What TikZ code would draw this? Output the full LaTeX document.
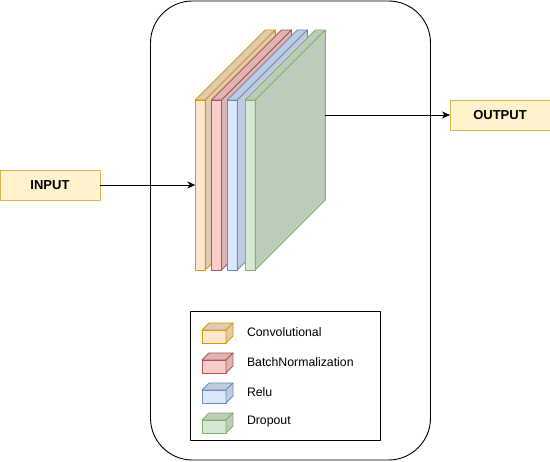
\documentclass[tikz,border=0pt]{standalone}
\usepackage{fontspec}
\setmainfont{Liberation Sans}
\usetikzlibrary{arrows.meta,calc}

\definecolor{convfill}{HTML}{FFE6CC}\definecolor{convline}{HTML}{D79B00}
\definecolor{bnfill}{HTML}{F8CECC}\definecolor{bnline}{HTML}{B85450}
\definecolor{relufill}{HTML}{DAE8FC}\definecolor{reluline}{HTML}{6C8EBF}
\definecolor{dropfill}{HTML}{D5E8D4}\definecolor{dropline}{HTML}{82B366}
\definecolor{iofill}{HTML}{FFF2CC}\definecolor{ioline}{HTML}{D6B656}

% #1 name, #2 front centre, #3 width, #4 height, #5 depth, #6 fill, #7 line
\newcommand{\cuboid}[7]{%
  \node[draw=#7,fill=#6,minimum width=#3pt,minimum height=#4pt] (#1) at #2 {};
  \filldraw[draw=#7,fill=#6!88!black]
    (#1.north west) -- ++(#5,-#5) -- ++(#3,0) -- (#1.north east) -- cycle;
  \filldraw[draw=#7,fill=#6!88!black]
    (#1.north east) -- ++(#5,-#5) -- ++(0,#4) -- (#1.south east) -- cycle;
}

\begin{document}
\begin{tikzpicture}
[x=1pt,y=-1pt,line width=0.9pt,line join=round,%
  every node/.style={inner sep=0pt,outer sep=0pt},%
  iobox/.style={draw=ioline,fill=iofill,minimum width=100pt,minimum height=30pt,
    font=\fontsize{13}{15}\selectfont\bfseries},%
  legend/.style={anchor=west,font=\fontsize{12.3}{14}\selectfont},%
  arrow/.style={-{Stealth[length=8pt,width=7pt,inset=2.5pt]}}]
\useasboundingbox (0,0) rectangle (550,462);
\node[draw,rounded corners=42pt,minimum width=280pt,minimum height=459pt]
  (block) at (290.5,230.5) {};
\node[iobox] (input) at (50,185) {INPUT};
\node[iobox] (output) at (500,115) {OUTPUT};
% layers
\cuboid{conv}{(200.3,185)}{10}{170}{70}{convfill}{convline}
\cuboid{bn}{(216.5,185)}{10}{170}{70}{bnfill}{bnline}
\cuboid{relu}{(232.3,185)}{10}{170}{70}{relufill}{reluline}
\cuboid{drop}{(250.3,185)}{10}{170}{70}{dropfill}{dropline}
\coordinate (dropout) at ($(drop.east)+(70,-70)$);
\draw[arrow] (input) -- (conv);
\draw[arrow] (dropout) -- (output);
% legend
\node[draw,minimum width=190pt,minimum height=129pt] (key) at (285,375.5) {};
\cuboid{lconv}{(214,336.5)}{24}{13}{7}{convfill}{convline}
\cuboid{lbn}{(214,366.5)}{24}{13}{7}{bnfill}{bnline}
\cuboid{lrelu}{(214,396.5)}{24}{13}{7}{relufill}{reluline}
\cuboid{ldrop}{(214,426.5)}{24}{13}{7}{dropfill}{dropline}
\node[legend] (tconv) at (247,332) {Convolutional};
\node[legend] (tbn) at (247,362) {BatchNormalization};
\node[legend] (trelu) at (247,392) {Relu};
\node[legend] (tdrop) at (247,422) {Dropout};
\end{tikzpicture}
\end{document}
